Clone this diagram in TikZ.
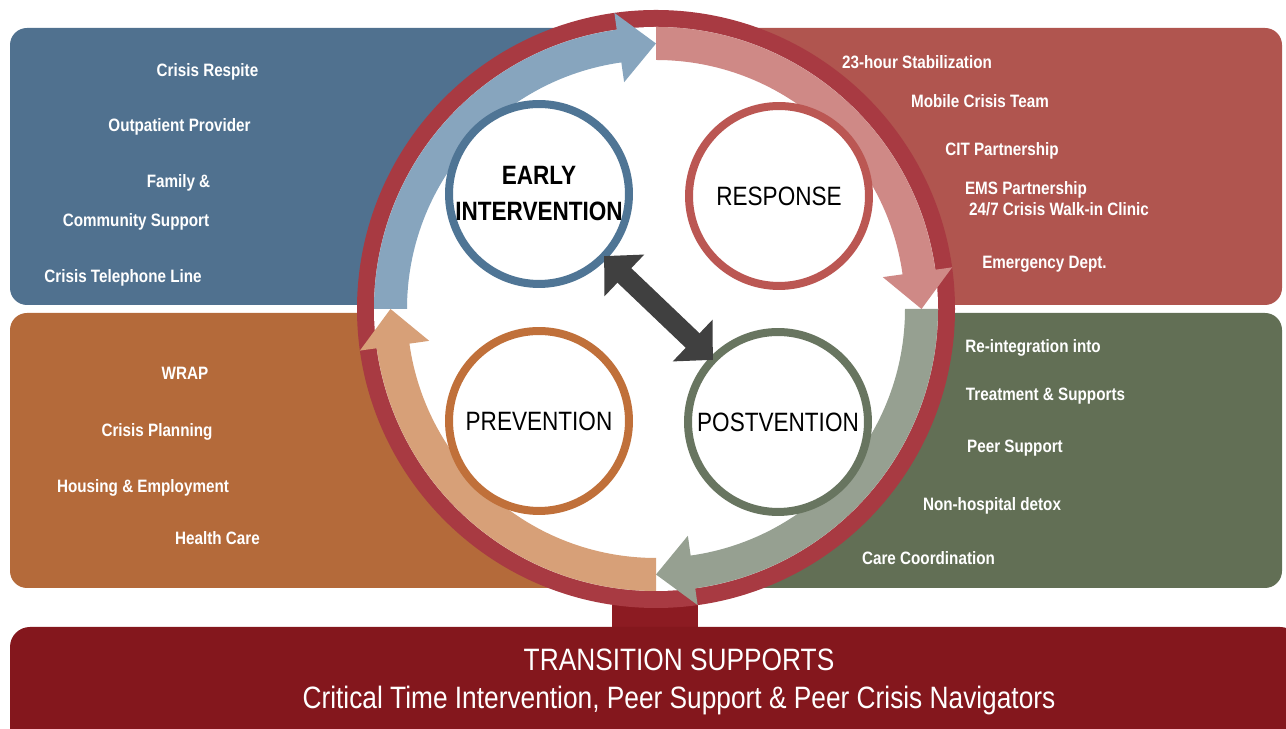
\documentclass[tikz,border=0pt]{standalone}
\usepackage{fontspec}
\setmainfont{Liberation Sans}
\newfontfamily\narrowfont[FakeStretch=0.85]{Liberation Sans}
\usetikzlibrary{arrows.meta}

\definecolor{bluepanel}{HTML}{50718F}
\definecolor{redpanel}{HTML}{B0554F}
\definecolor{orangepanel}{HTML}{B46A3A}
\definecolor{greenpanel}{HTML}{626F55}
\definecolor{barred}{HTML}{84171D}
\definecolor{stemred}{HTML}{8C1B22}
\definecolor{ringred}{HTML}{A83A42}
\definecolor{arrblue}{HTML}{87A5BE}
\definecolor{arrred}{HTML}{CF8986}
\definecolor{arrgreen}{HTML}{96A091}
\definecolor{arrorange}{HTML}{D7A078}
\definecolor{earlyline}{HTML}{4F7595}
\definecolor{responseline}{HTML}{BB5753}
\definecolor{preventline}{HTML}{C0703A}
\definecolor{postline}{HTML}{687560}
\definecolor{bigarrowgray}{HTML}{404040}

\tikzset{
  panel/.style={rounded corners=0.34cm},
  svc/.style={anchor=base, text=white, inner sep=0pt,
    font=\narrowfont\bfseries\fontsize{10.2}{12}\selectfont},
  stage/.style={circle, draw=#1, fill=white, line width=0.16cm,
    minimum size=3.6cm, inner sep=0pt, align=center,
    font=\narrowfont\fontsize{15.1}{20.5}\selectfont},
  bigarrow/.style={{Triangle[width=1.12cm,length=0.56cm]}-{Triangle[width=1.12cm,length=0.56cm]},
    line width=0.4cm, draw=bigarrowgray, shorten <=-0.08cm, shorten >=-0.08cm},
  bartext/.style={anchor=base, text=white, inner sep=0pt,
    font=\narrowfont\fontsize{17.6}{21.6}\selectfont}
}

\begin{document}
\begin{tikzpicture}[x=0.02cm,y=0.02cm]
  % Rahmen
  \useasboundingbox (0,0) rectangle (1286,729);
  \clip (0,0) rectangle (1286,729);
  % Felder
  \fill[bluepanel,panel] (10,424) rectangle (656,701);
  \fill[redpanel,panel] (656,424) rectangle (1282,701);
  \fill[orangepanel,panel] (10,141) rectangle (656,416);
  \fill[greenpanel,panel] (656,141) rectangle (1282,416);
  % Unterer Balken
  \fill[stemred] (612,95) rectangle (698,140);
  \fill[barred,rounded corners=0.4cm] (10,-20) rectangle (1300,102);
  % Kreisring mit Pfeilen
  \begin{scope}[shift={(656,420)}]
    \fill[ringred] (0,0) circle (299);
    \fill[white] (0,0) circle (282);
    \foreach \a/\c in {180/arrblue,90/arrred,0/arrgreen,-90/arrorange}{
      \pgfmathsetmacro\headang{\a-82}
      \pgfmathsetmacro\tipang{\a-90}
      \fill[\c] (\a:282) arc[start angle=\a, end angle=\headang, radius=282]
        -- (\headang:299) -- (\tipang:265.5) -- (\headang:229) -- (\headang:249)
        arc[start angle=\headang, end angle=\a, radius=249] -- cycle;
    }
  \end{scope}
  % Phasen
  \node[stage=earlyline] (early) at (539,535) {\bfseries EARLY\\\bfseries INTERVENTION};
  \node[stage=responseline] (response) at (779,533) {RESPONSE};
  \node[stage=preventline] (prevention) at (539,308) {PREVENTION};
  \node[stage=postline] (postvention) at (778,307) {POSTVENTION};
  \draw[bigarrow] (early) -- (postvention);
  % Angebote links oben
  \foreach \x/\y/\txt [count=\i] in {207.5/652.5/{Crisis Respite},
      179.5/597.5/{Outpatient Provider}, 178.5/541.5/{Family \&},
      136/502.5/{Community Support}, 123/446.5/{Crisis Telephone Line}}
    \node[svc] (early-\i) at (\x,\y) {\txt};
  % Angebote rechts oben
  \foreach \x/\y/\txt [count=\i] in {917/660.5/{23-hour Stabilization},
      980/621.5/{Mobile Crisis Team}, 1002/573.5/{CIT Partnership},
      1026/534.5/{EMS Partnership}, 1059/513.5/{24/7 Crisis Walk-in Clinic},
      1044.5/460.5/{Emergency Dept.}}
    \node[svc] (response-\i) at (\x,\y) {\txt};
  % Angebote links unten
  \foreach \x/\y/\txt [count=\i] in {185/349.5/{WRAP},
      157/292.5/{Crisis Planning}, 143/236.5/{Housing \& Employment},
      217.5/184.5/{Health Care}}
    \node[svc] (prevention-\i) at (\x,\y) {\txt};
  % Angebote rechts unten
  \foreach \x/\y/\txt [count=\i] in {1033/376.5/{Re-integration into},
      1045.5/328.5/{Treatment \& Supports}, 1015/276.5/{Peer Support},
      992/218.5/{Non-hospital detox}, 928.5/164.5/{Care Coordination}}
    \node[svc] (postvention-\i) at (\x,\y) {\txt};
  % Balkentext
  \node[bartext] (transition) at (679,58) {TRANSITION SUPPORTS};
  \node[bartext] (navigators) at (679,20) {Critical Time Intervention, Peer Support \& Peer Crisis Navigators};
\end{tikzpicture}
\end{document}
